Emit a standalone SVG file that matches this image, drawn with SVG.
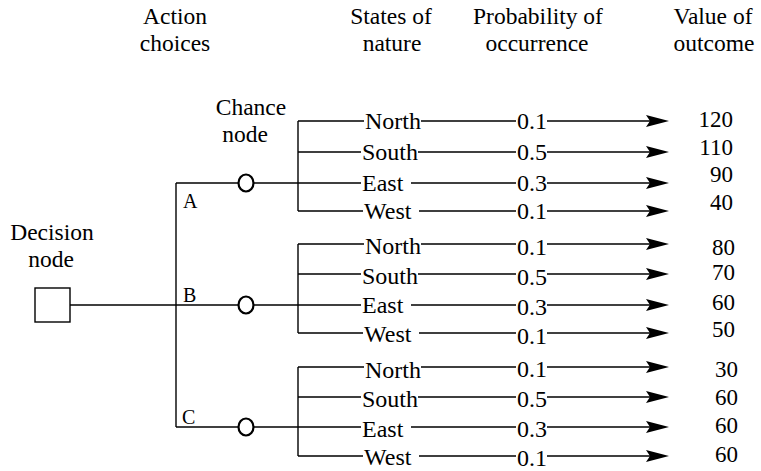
<svg xmlns="http://www.w3.org/2000/svg" width="761" height="471" viewBox="0 0 761 471">
<style>
text { font-family: "Liberation Serif", "Times New Roman", serif; fill: #000; }
.hdr { font-size: 23.5px; text-anchor: middle; }
.lbl { font-size: 24px; }
.prob { font-size: 24px; }
.val { font-size: 23px; text-anchor: end; }
.ab { font-size: 20px; }
.ln { stroke: #000; stroke-width: 1.4; fill: none; }
.arr { stroke: #000; stroke-width: 1.4; fill: none; marker-end: url(#ah); }
.chance { stroke: #000; stroke-width: 2.2; fill: #fff; }
.box { stroke: #000; stroke-width: 1.4; fill: #fff; }
</style>
<defs>
<marker id="ah" markerUnits="userSpaceOnUse" viewBox="0 0 23 12" markerWidth="23" markerHeight="12" refX="5" refY="6" orient="auto">
<path d="M0,0 L23,6 L0,12 L4,6 Z" fill="#000"/>
</marker>
</defs>
<rect width="761" height="471" fill="#fff"/>

<g id="headers">
<text class="hdr"><tspan x="175" y="24">Action</tspan><tspan x="175" y="50.5">choices</tspan></text>
<text class="hdr"><tspan x="391" y="24">States of</tspan><tspan x="392" y="50.5">nature</tspan></text>
<text class="hdr"><tspan x="538" y="24">Probability of</tspan><tspan x="537" y="50.5">occurrence</tspan></text>
<text class="hdr"><tspan x="713" y="24">Value of</tspan><tspan x="714" y="50.5">outcome</tspan></text>
</g>

<g id="connectors">
<line class="ln" x1="70" y1="305" x2="176" y2="305"/>
<line class="ln" x1="176" y1="183" x2="176" y2="427"/>
<line class="ln" x1="176" y1="183" x2="238.5" y2="183"/>
<line class="ln" x1="176" y1="305" x2="238.5" y2="305"/>
<line class="ln" x1="176" y1="427" x2="238.5" y2="427"/>
<line class="ln" x1="253.5" y1="183" x2="298" y2="183"/>
<line class="ln" x1="253.5" y1="305" x2="298" y2="305"/>
<line class="ln" x1="253.5" y1="427" x2="298" y2="427"/>
<line class="ln" x1="298" y1="121" x2="298" y2="211"/>
<line class="ln" x1="298" y1="244" x2="298" y2="333"/>
<line class="ln" x1="298" y1="367" x2="298" y2="456"/>
<path class="ln" d="M298,121H364M421,121H516M298,152H361M418,152H516M298,183H361M411,183H516M298,211H363M419,211H516"/>
<line class="arr" x1="547" y1="121" x2="651" y2="121"/>
<line class="arr" x1="547" y1="152" x2="651" y2="152"/>
<line class="arr" x1="547" y1="183" x2="651" y2="183"/>
<line class="arr" x1="547" y1="211" x2="651" y2="211"/>
<path class="ln" d="M298,244H364M421,244H516M298,274H361M418,274H516M298,305H361M411,305H516M298,333H363M419,333H516"/>
<line class="arr" x1="547" y1="244" x2="651" y2="244"/>
<line class="arr" x1="547" y1="274" x2="651" y2="274"/>
<line class="arr" x1="547" y1="305" x2="651" y2="305"/>
<line class="arr" x1="547" y1="333" x2="651" y2="333"/>
<path class="ln" d="M298,367H364M421,367H516M298,397H361M418,397H516M298,427H361M411,427H516M298,456H363M419,456H516"/>
<line class="arr" x1="547" y1="367" x2="651" y2="367"/>
<line class="arr" x1="547" y1="397" x2="651" y2="397"/>
<line class="arr" x1="547" y1="427" x2="651" y2="427"/>
<line class="arr" x1="547" y1="456" x2="651" y2="456"/>
</g>

<g id="decision-node">
<rect class="box" x="35" y="288" width="35" height="34"/>
<text class="hdr"><tspan x="52" y="240">Decision</tspan><tspan x="51" y="266.5">node</tspan></text>
</g>

<g id="action-labels">
<text class="ab" x="183" y="208">A</text>
<text class="ab" x="183" y="302">B</text>
<text class="ab" x="182" y="424">C</text>
</g>

<g id="chance-A">
<text class="hdr"><tspan x="251" y="115">Chance</tspan><tspan x="245" y="141.5">node</tspan></text>
<ellipse class="chance" cx="246" cy="183" rx="7.5" ry="8.5"/>
</g>
<g id="chance-B">
<ellipse class="chance" cx="246" cy="305" rx="7.5" ry="8.5"/>
</g>
<g id="chance-C">
<ellipse class="chance" cx="246" cy="427" rx="7.5" ry="8.5"/>
</g>

<g id="outcomes-A">
<text class="lbl" x="365" y="129">North</text>
<text class="lbl" x="362" y="160">South</text>
<text class="lbl" x="362" y="191">East</text>
<text class="lbl" x="364" y="219">West</text>
<text class="prob" x="517" y="129">0.1</text>
<text class="prob" x="517" y="160">0.5</text>
<text class="prob" x="517" y="191">0.3</text>
<text class="prob" x="517" y="219">0.1</text>
<text class="val" x="733" y="127">120</text>
<text class="val" x="733" y="155">110</text>
<text class="val" x="733" y="182">90</text>
<text class="val" x="733" y="210">40</text>
</g>

<g id="outcomes-B">
<text class="lbl" x="365" y="254">North</text>
<text class="lbl" x="362" y="284">South</text>
<text class="lbl" x="362" y="313">East</text>
<text class="lbl" x="364" y="342">West</text>
<text class="prob" x="517" y="255">0.1</text>
<text class="prob" x="517" y="285">0.5</text>
<text class="prob" x="517" y="315">0.3</text>
<text class="prob" x="517" y="344">0.1</text>
<text class="val" x="735" y="255">80</text>
<text class="val" x="735" y="280">70</text>
<text class="val" x="735" y="310">60</text>
<text class="val" x="735" y="337">50</text>
</g>

<g id="outcomes-C">
<text class="lbl" x="365" y="378">North</text>
<text class="lbl" x="362" y="407">South</text>
<text class="lbl" x="362" y="437">East</text>
<text class="lbl" x="364" y="465">West</text>
<text class="prob" x="517" y="377">0.1</text>
<text class="prob" x="517" y="407">0.5</text>
<text class="prob" x="517" y="437">0.3</text>
<text class="prob" x="517" y="466">0.1</text>
<text class="val" x="738" y="377">30</text>
<text class="val" x="738" y="405">60</text>
<text class="val" x="738" y="433">60</text>
<text class="val" x="738" y="462">60</text>
</g>
</svg>
